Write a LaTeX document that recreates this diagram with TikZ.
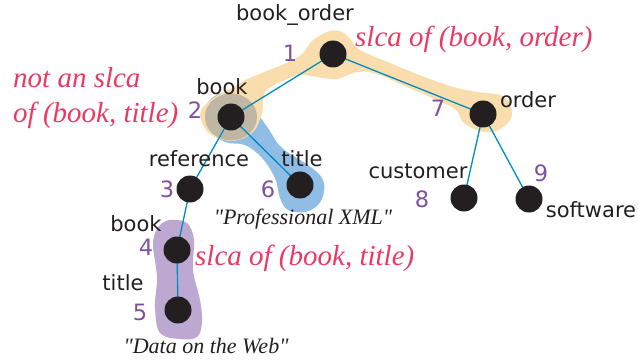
\documentclass[tikz,border=0pt]{standalone}
\usepackage{fontspec}
\setmainfont{Liberation Serif}
\setsansfont{DejaVu Sans}
\newfontfamily\notefont{Liberation Serif}[Ligatures=Common]
\definecolor{hlorange}{RGB}{250,221,172}
\definecolor{hlblue}{RGB}{143,189,230}
\definecolor{hlgray}{RGB}{191,182,163}
\definecolor{hlpurple}{RGB}{189,168,210}
\definecolor{edgec}{RGB}{0,140,190}
\definecolor{dotc}{RGB}{35,31,32}
\definecolor{numc}{RGB}{128,80,160}
\definecolor{slcared}{RGB}{232,58,100}
\tikzset{
  lbl/.style={font=\sffamily\fontsize{21}{25}\selectfont, text=dotc, anchor=base, inner sep=0pt},
  num/.style={font=\sffamily\fontsize{22.5}{27}\selectfont, text=numc, anchor=base, inner sep=0pt},
  note/.style={font=\notefont\itshape\fontsize{29}{35}\selectfont, text=slcared, anchor=base west, inner sep=0pt},
  val/.style={font=\notefont\itshape\fontsize{22}{26}\selectfont, text=dotc, anchor=base, inner sep=0pt},
  edge/.style={draw=edgec, line width=1.3pt}
}
\begin{document}
\begin{tikzpicture}[x=1pt, y=-1pt, line join=round, line cap=round]
\useasboundingbox (0,0) rectangle (638,361);
\path
(333,54)coordinate(n1)
(231,117)coordinate(n2)
(190,189)coordinate(n3)
(177,250)coordinate(n4)
(178,310)coordinate(n5)
(300,185)coordinate(n6)
(483,114)coordinate(n7)
(464,198)coordinate(n8)
(529,199)coordinate(n9)
;
% highlighted regions
\fill[hlblue] plot[smooth cycle, tension=0.6] coordinates {
  (231,92) (250,100) (258,114) (268,128) (282,148) (308,165) (322,178) (324,192)
  (318,205) (305,212) (288,210) (280,198) (275,178) (262,158) (245,145) (225,142)
  (207,128) (205,108) (215,96)};
\fill[hlorange] plot[smooth cycle, tension=0.6] coordinates {
  (330,31) (342,32) (351,40) (360,50) (390,63) (427,78) (457,88) (477,92)
  (503,96) (512,110) (508,123) (493,132) (477,130) (463,122) (456,110) (437,100)
  (407,87) (377,74) (357,72) (337,79) (317,77) (300,75) (283,81) (265,92)
  (262,113) (253,132) (233,141) (210,134) (200,114) (212,99) (232,88) (250,78)
  (277,67) (293,60) (303,53) (313,40)};
\fill[hlgray] (n2) ellipse (26 and 23.5);
\fill[hlpurple] plot[smooth cycle, tension=0.6] coordinates {
  (177,220) (188,224) (194,240) (193,270) (200,300) (202,322) (197,337) (180,339)
  (160,333) (155,307) (157,277) (153,245) (157,229) (166,221)};
% tree
\draw[edge] (n1)--(n2) (n1)--(n7) (n2)--(n3) (n2)--(n6) (n3)--(n4) (n4)--(n5) (n7)--(n8) (n7)--(n9);
\foreach \d in {1,...,9}{
  \fill[dotc] (n\d) circle (13.5);}
\foreach \d/\x/\y in {1/290/62, 2/195/118, 3/167/197, 4/146/255, 5/140/320, 6/268/197, 7/438/117, 8/422/207, 9/541/181}{
  \node[num](k\d) at (\x,\y) {\d};}
\foreach \d/\t/\x/\y in {1/book\_order/295/21, 2/book/222/95, 3/reference/199/166, 4/book/136/231, 5/title/123/290, 6/title/302/166, 7/order/528/108, 8/customer/418/178, 9/software/591/217}{
  \node[lbl](t\d) at (\x,\y) {\t};}
\node[note](s1) at (355,47) {slca of (book, order)};
\node[note](s2) at (195,265) {slca of (book, title)};
\node[note](s3) at (13,88) {not an slca};
\node[note](s4) at (13,123) {of (book, title)};
\node[val](v6) at (303,224) {"Professional XML"};
\node[val](v5) at (206,353) {"Data on the Web"};
\end{tikzpicture}
\end{document}
